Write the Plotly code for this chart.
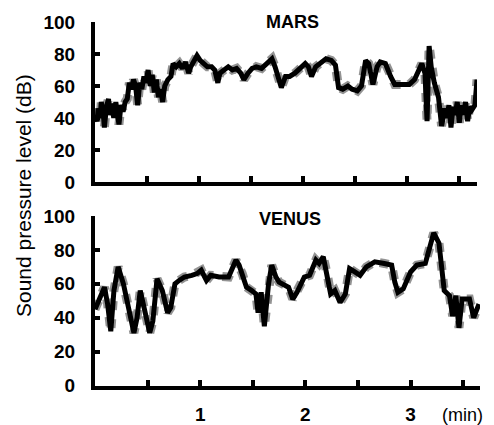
import plotly.graph_objects as go

# ---- data ----
mars_t = [0.00, 0.02, 0.03, 0.05, 0.06, 0.08, 0.09, 0.11, 0.13, 0.14, 0.16, 0.18, 0.20, 0.21, 0.23,
          0.25, 0.27, 0.29, 0.31, 0.33, 0.35, 0.37, 0.39, 0.41, 0.43, 0.45, 0.47, 0.49, 0.51, 0.53,
          0.55, 0.57, 0.59, 0.61, 0.63, 0.65, 0.67, 0.70, 0.73, 0.75, 0.78, 0.81, 0.84, 0.87, 0.90,
          0.92, 0.96, 0.98, 1.01, 1.04, 1.08, 1.12, 1.15, 1.18, 1.20, 1.24, 1.28, 1.32, 1.36, 1.40,
          1.43, 1.47, 1.51, 1.55, 1.60, 1.65, 1.70, 1.73, 1.76, 1.79, 1.83, 1.87, 1.92, 1.97, 2.02,
          2.05, 2.08, 2.12, 2.17, 2.22, 2.27, 2.31, 2.34, 2.38, 2.43, 2.47, 2.52, 2.56, 2.60, 2.63,
          2.67, 2.71, 2.74, 2.79, 2.84, 2.88, 2.95, 3.02, 3.07, 3.12, 3.14, 3.17, 3.19, 3.21, 3.23,
          3.26, 3.30, 3.33, 3.36, 3.38, 3.40, 3.42, 3.44, 3.46, 3.48, 3.50, 3.52, 3.54, 3.56, 3.58,
          3.60, 3.62, 3.65, 3.67]
mars_db = [42, 38, 46, 40, 50, 43, 34, 47, 52, 42, 49, 40, 50, 44, 36,
           48, 44, 50, 52, 62, 58, 64, 60, 48, 62, 58, 66, 62, 70, 60,
           67, 56, 64, 53, 58, 50, 60, 64, 66, 74, 72, 74, 71, 75, 68,
           72, 76, 79, 76, 74, 72, 72, 70, 62, 68, 70, 72, 70, 71, 68,
           64, 68, 71, 72, 71, 74, 77, 72, 64, 59, 66, 66, 68, 71, 74,
           72, 66, 72, 75, 77, 76, 73, 59, 58, 60, 58, 57, 60, 76, 74,
           61, 72, 75, 74, 66, 61, 61, 61, 64, 72, 74, 68, 38, 85, 72,
           62, 53, 35, 46, 40, 48, 34, 47, 42, 50, 37, 48, 42, 50, 38,
           47, 45, 48, 64]

venus_t = [0.00, 0.05, 0.09, 0.12, 0.15, 0.18, 0.22, 0.27, 0.32, 0.37, 0.40, 0.43, 0.47, 0.52,
           0.55, 0.59, 0.64, 0.69, 0.72, 0.76, 0.80, 0.85, 0.92, 0.97, 1.01, 1.04, 1.06, 1.10,
           1.18, 1.27, 1.34, 1.37, 1.40, 1.44, 1.49, 1.53, 1.55, 1.58, 1.61, 1.65, 1.68, 1.72,
           1.75, 1.81, 1.84, 1.88, 1.92, 1.99, 2.04, 2.10, 2.13, 2.17, 2.21, 2.24, 2.28, 2.33,
           2.38, 2.42, 2.47, 2.52, 2.58, 2.66, 2.75, 2.82, 2.85, 2.88, 2.93, 3.00, 3.06, 3.14,
           3.22, 3.27, 3.32, 3.37, 3.40, 3.43, 3.46, 3.49, 3.56, 3.60, 3.65]
venus_db = [45, 52, 58, 48, 32, 56, 70, 60, 46, 31, 40, 56, 45, 31,
            38, 63, 56, 43, 46, 60, 62, 64, 65, 66, 68, 64, 62, 65,
            64, 64, 74, 71, 66, 58, 56, 54, 43, 55, 35, 60, 71, 64,
            61, 59, 58, 51, 55, 64, 65, 74, 72, 76, 65, 54, 56, 49,
            54, 69, 67, 65, 70, 73, 72, 71, 61, 55, 57, 67, 71, 72,
            90, 84, 56, 53, 41, 53, 34, 51, 51, 40, 48]

y_ticks = [0, 20, 40, 60, 80, 100]
x_ticks = [0.5, 1.0, 1.5, 2.0, 2.5, 3.0, 3.5]
x_labels = ["", "1", "", "2", "", "3", ""]

W, H = 494, 425
FONT = "Liberation Sans, Arial, sans-serif"

fig = go.Figure()

def add_series(t, db, xa, ya):
    fig.add_trace(go.Scatter(x=t, y=db, mode="lines", xaxis=xa, yaxis=ya,
                             line=dict(color="rgba(120,120,120,0.8)", width=9, dash="dot"),
                             hoverinfo="skip", showlegend=False))
    fig.add_trace(go.Scatter(x=t, y=db, mode="lines", xaxis=xa, yaxis=ya,
                             line=dict(color="black", width=5),
                             showlegend=False))

add_series(mars_t, mars_db, "x", "y")
add_series(venus_t, venus_db, "x2", "y2")

def px_x(p):
    return p / W

def px_y(p):
    return (H - p) / H

ax_common = dict(showline=True, linecolor="black", linewidth=4, ticks="inside",
                 tickcolor="black", tickwidth=4, showgrid=False, zeroline=False,
                 automargin=False,
                 tickfont=dict(family=FONT, size=19, color="black", weight="bold"))

fig.update_layout(
    width=W, height=H,
    margin=dict(l=0, r=0, t=0, b=0, autoexpand=False),
    paper_bgcolor="white", plot_bgcolor="white",
    xaxis=dict(domain=[px_x(95), px_x(477)], range=[0, 3.67], anchor="y",
               tickvals=x_ticks, ticktext=[""] * len(x_ticks), ticklen=6, **ax_common),
    yaxis=dict(domain=[px_y(182), px_y(22)], range=[0, 100], anchor="x",
               tickvals=y_ticks, ticklen=5, ticklabelstandoff=12, **ax_common),
    xaxis2=dict(domain=[px_x(95), px_x(480)], range=[0, 3.66], anchor="y2",
                tickvals=x_ticks, ticktext=x_labels, ticklen=6, ticklabelstandoff=9,
                **ax_common),
    yaxis2=dict(domain=[px_y(385.5), px_y(216)], range=[0, 100], anchor="x2",
                tickvals=y_ticks, ticklen=5, ticklabelstandoff=12, **ax_common),
)

ann_font = dict(family=FONT, size=18, color="black", weight="bold")
fig.add_annotation(text="MARS", x=px_x(292), y=px_y(22), xref="paper", yref="paper",
                   showarrow=False, font=ann_font, xanchor="center", yanchor="middle")
fig.add_annotation(text="VENUS", x=px_x(290), y=px_y(219), xref="paper", yref="paper",
                   showarrow=False, font=ann_font, xanchor="center", yanchor="middle")
fig.add_annotation(text="(min)", x=px_x(462), y=px_y(415), xref="paper", yref="paper",
                   showarrow=False, font=dict(family=FONT, size=18, color="black"),
                   xanchor="center", yanchor="middle")
fig.add_annotation(text="Sound pressure level (dB)", x=px_x(23), y=px_y(196),
                   xref="paper", yref="paper", showarrow=False, textangle=-90,
                   font=dict(family=FONT, size=21, color="black"),
                   xanchor="center", yanchor="middle")

fig.write_html("out.html", config={"displayModeBar": False},
               post_script="document.body.style.margin='0';document.body.style.overflow='hidden';")
